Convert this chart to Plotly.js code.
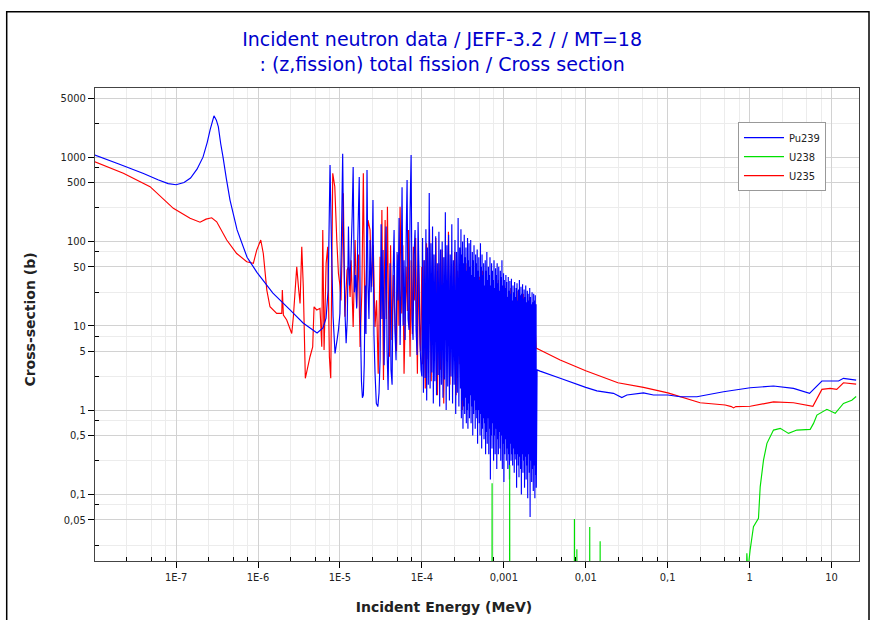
<!DOCTYPE html>
<html><head><meta charset="utf-8">
<script src="https://cdn.plot.ly/plotly-3.0.1.min.js"></script>
<style>html,body{margin:0;padding:0;background:#fff}</style>
</head><body>
<div id="chart" style="width:872px;height:620px"></div>
<script>
// ---------- tick labels ----------
const xTickVals = [1e-7, 1e-6, 1e-5, 1e-4, 1e-3, 1e-2, 1e-1, 1, 10];
const xTickText = ['1E-7', '1E-6', '1E-5', '1E-4', '0,001', '0,01', '0,1', '1', '10'];
const xMinorVals = [2.5e-8, 5e-8, 7.5e-8, 2.5e-7, 5e-7, 7.5e-7, 2.5e-6, 5e-6, 7.5e-6,
  2.5e-5, 5e-5, 7.5e-5, 2.5e-4, 5e-4, 7.5e-4, 2.5e-3, 5e-3, 7.5e-3,
  0.025, 0.05, 0.075, 0.25, 0.5, 0.75, 2.5, 5, 7.5];
const yTickVals = [0.05, 0.1, 0.5, 1, 5, 10, 50, 100, 500, 1000, 5000];
const yTickText = ['0,05', '0,1', '0,5', '1', '5', '10', '50', '100', '500', '1000', '5000'];
const yMinorVals = [0.025, 0.075, 0.25, 0.75, 2.5, 7.5, 25, 75, 250, 750, 2500];

// ---------- Pu239 (MeV, barn) ----------
const pu239ThermalE = [1.02e-8, 2e-8, 4e-8, 6e-8, 8e-8, 1.0e-7, 1.25e-7, 1.5e-7, 1.8e-7, 2.13e-7,
  2.4e-7, 2.6e-7, 2.9e-7, 3.1e-7, 3.28e-7, 3.5e-7, 3.74e-7, 4.1e-7, 4.55e-7, 5.55e-7,
  7.35e-7, 9.7e-7, 1.52e-6, 2.46e-6, 3.55e-6, 5.26e-6, 6.2e-6];
const pu239ThermalXs = [1060, 830, 640, 540, 485, 470, 500, 565, 720, 1000,
  1500, 2100, 3090, 2750, 2290, 1450, 1000, 560, 310, 137,
  65, 43, 24.4, 15.4, 10.8, 8.2, 9.4];

const pu239ResE = [6.77e-6, 7.17e-6, 7.57e-6, 7.9e-6, 8.24e-6, 8.71e-6, 9.23e-6, 9.6e-6, 1.0e-5, 1.04e-5,
  1.08e-5, 1.11e-5, 1.15e-5, 1.19e-5, 1.23e-5, 1.27e-5, 1.31e-5, 1.36e-5, 1.41e-5, 1.45e-5,
  1.5e-5, 1.55e-5, 1.6e-5, 1.65e-5, 1.72e-5, 1.77e-5, 1.83e-5, 1.88e-5, 1.93e-5, 1.98e-5,
  2.03e-5, 2.08e-5, 2.14e-5, 2.2e-5, 2.26e-5, 2.33e-5, 2.4e-5, 2.47e-5, 2.53e-5, 2.6e-5,
  2.68e-5, 2.78e-5, 2.9e-5, 3.0e-5, 3.09e-5, 3.18e-5, 3.27e-5, 3.36e-5, 3.46e-5, 3.56e-5,
  3.66e-5, 3.76e-5, 3.87e-5, 3.98e-5, 4.09e-5, 4.2e-5, 4.33e-5, 4.45e-5, 4.58e-5, 4.71e-5,
  4.84e-5, 4.98e-5, 5.12e-5, 5.27e-5, 5.42e-5, 5.57e-5, 5.73e-5, 5.9e-5, 6.06e-5, 6.24e-5,
  6.42e-5, 6.6e-5, 6.79e-5, 6.98e-5, 7.18e-5, 7.39e-5, 7.6e-5, 7.81e-5, 8.03e-5, 8.26e-5,
  8.5e-5, 8.74e-5, 8.99e-5, 9.24e-5, 9.5e-5, 9.77e-5];
const pu239ResXs = [12.3, 26.5, 806, 79, 13, 4.7, 6.8, 9, 14, 90,
  1100, 90, 15, 6.2, 12, 150, 30, 60, 200, 763,
  25, 40, 16, 104, 580, 14, 2.2, 1.4, 1.5, 3.5,
  30, 8, 703, 30, 12, 104, 25, 60, 310, 8,
  2.75, 1.2, 1.1, 1.6, 4, 160, 12, 79, 3.4, 20,
  150, 5, 1.73, 12, 55, 3, 2.0, 40, 137, 8,
  3.9, 75, 20, 190, 5.9, 30, 440, 10, 60, 6.8,
  100, 535, 12, 8.9, 230, 1059, 12, 6.8, 70, 137,
  9, 4.5, 170, 40, 6, 3.0];

const pu239DenseE = [
  100e-6, 102e-6, 104.5e-6, 107e-6, 109.5e-6, 112e-6, 114.5e-6, 117e-6, 120e-6, 123e-6,
  126e-6, 129e-6, 132e-6, 135e-6, 138e-6, 141e-6, 144e-6, 147.5e-6, 151e-6, 154.5e-6,
  158e-6, 161.5e-6, 165e-6, 169e-6, 173e-6, 177e-6, 181e-6, 185e-6, 189e-6, 193.5e-6,
  198e-6, 202.5e-6, 207e-6, 212e-6, 217e-6, 222e-6, 227e-6, 232e-6, 237e-6, 242.5e-6,
  248e-6, 253.5e-6, 259e-6, 265e-6, 271e-6, 277e-6, 283e-6, 289.5e-6, 296e-6,
  300e-6, 303.5e-6, 307e-6, 310.5e-6, 314e-6, 317.5e-6, 321e-6, 325e-6, 329e-6, 333e-6,
  337e-6, 341e-6, 345e-6, 349e-6, 353e-6, 357e-6, 361e-6, 365e-6, 369e-6, 373e-6,
  377e-6, 381e-6, 385.5e-6, 390e-6, 394.5e-6, 399e-6, 403.5e-6, 408e-6, 413e-6, 418e-6,
  423e-6, 428e-6, 433e-6, 438e-6, 443e-6, 448e-6, 453e-6, 458e-6, 463e-6, 468e-6,
  473.5e-6, 479e-6, 484.5e-6, 490e-6, 495.5e-6, 501e-6, 507e-6, 513e-6, 519e-6, 525e-6,
  531e-6, 537e-6, 543e-6, 549e-6, 555e-6, 561e-6, 567.5e-6, 574e-6, 580.5e-6, 587e-6,
  593.5e-6, 600e-6, 607e-6, 614e-6, 621e-6, 628e-6, 635e-6, 642e-6, 649e-6, 656e-6,
  663.5e-6, 671e-6, 678.5e-6, 686e-6, 694e-6, 702e-6, 710e-6, 718e-6, 726e-6, 734e-6,
  742.5e-6, 751e-6, 759.5e-6, 768e-6, 776.5e-6, 785e-6, 794e-6, 803e-6, 812e-6, 821e-6,
  830e-6, 839.5e-6, 849e-6, 858.5e-6, 868e-6, 878e-6, 888e-6, 898e-6, 908e-6, 918e-6,
  928.5e-6, 939e-6, 949.5e-6, 960e-6, 971e-6, 982e-6, 993e-6, 1004e-6, 1015e-6, 1026e-6,
  1037.5e-6, 1049e-6, 1061e-6, 1073e-6, 1085e-6, 1097e-6, 1109e-6, 1121e-6, 1134e-6, 1147e-6,
  1160e-6, 1173e-6, 1186e-6, 1199e-6, 1212e-6, 1226e-6, 1240e-6, 1254e-6, 1268e-6, 1282e-6,
  1296e-6, 1311e-6, 1326e-6, 1341e-6, 1356e-6, 1371e-6, 1386e-6, 1402e-6, 1418e-6, 1434e-6,
  1450e-6, 1466e-6, 1482e-6, 1499e-6, 1516e-6, 1533e-6, 1550e-6, 1567e-6, 1585e-6, 1603e-6,
  1621e-6, 1639e-6, 1657e-6, 1676e-6, 1695e-6, 1714e-6, 1733e-6, 1752e-6, 1772e-6, 1792e-6,
  1812e-6, 1832e-6, 1853e-6, 1874e-6, 1895e-6, 1916e-6, 1938e-6, 1960e-6, 1982e-6, 2004e-6,
  2026e-6, 2049e-6, 2072e-6, 2095e-6, 2118e-6, 2142e-6, 2166e-6, 2190e-6, 2215e-6, 2240e-6,
  2265e-6, 2291e-6, 2317e-6, 2343e-6, 2369e-6, 2396e-6, 2423e-6, 2450e-6, 2477e-6, 2494e-6];
const pu239DenseXs = [
  2.5, 110, 1.6, 60, 2.4, 140, 1.3, 85, 2.0, 375,
  1.8, 95, 2.8, 150, 1.2, 70, 2.2, 115, 1.5, 55,
  2.6, 130, 1.1, 80, 2.0, 100, 1.4, 65, 2.3, 222,
  1.0, 90, 1.9, 120, 1.3, 70, 2.5, 160, 1.2, 60,
  2.0, 104, 0.9, 75, 1.6, 190, 1.1, 85, 1.8,
  140, 0.8, 70, 1.3, 100, 0.6, 55, 1.1, 120, 0.9,
  65, 1.4, 85, 0.7, 45, 1.0, 110, 0.6, 60, 1.2,
  95, 0.8, 50, 1.5, 104, 0.7, 40, 1.1, 75, 0.5,
  60, 0.9, 90, 1.3, 38, 0.6, 70, 1.0, 55, 0.8,
  80, 0.4, 45, 1.0, 65, 0.7, 35, 0.5, 95, 0.9,
  50, 0.35, 70, 0.6, 40, 0.8, 55, 0.45, 30, 0.7,
  60, 0.3, 45, 0.55, 75, 0.4, 35, 0.8, 50, 0.3,
  40, 0.6, 65, 0.15, 30, 0.5, 55, 0.35, 45, 0.7,
  35, 0.25, 60, 0.5, 28, 0.3, 48, 0.6, 40, 0.2,
  55, 0.45, 32, 0.3, 50, 0.55, 26, 0.35, 45, 0.25,
  38, 0.5, 60, 0.2, 30, 0.4, 42, 0.14, 35, 0.3,
  28, 0.45, 40, 0.25, 33, 0.35, 22, 0.2, 38, 0.3,
  26, 0.15, 34, 0.4, 24, 0.25, 36, 0.3, 20, 0.22,
  30, 0.35, 25, 0.18, 33, 0.3, 22, 0.26, 28, 0.12,
  32, 0.3, 20, 0.22, 27, 0.16, 35, 0.28, 23, 0.2,
  29, 0.1, 24, 0.3, 31, 0.18, 21, 0.25, 27, 0.12,
  22, 0.28, 30, 0.15, 19, 0.22, 26, 0.09, 24, 0.3,
  20, 0.18, 28, 0.054, 22, 0.25, 18, 0.14, 25, 0.2,
  19, 0.11, 24, 0.22, 20, 0.09, 23, 0.17, 18, 0.12];

const pu239FastE = [2.55e-3, 2.77e-3, 4.88e-3, 0.01, 0.0137, 0.0218, 0.0276, 0.0318, 0.0507, 0.0671,
  0.1007, 0.142, 0.228, 0.481, 1.02, 1.96, 3.44, 5.4, 7.64, 12.2, 14.0, 20];
const pu239FastXs = [3.0, 2.9, 2.38, 1.86, 1.69, 1.58, 1.41, 1.51, 1.60, 1.51,
  1.51, 1.44, 1.44, 1.65, 1.84, 1.93, 1.81, 1.58, 2.21, 2.21, 2.38, 2.27];

// ---------- U235 (MeV, barn) ----------
const u235ThermalE = [1.02e-8, 2.27e-8, 4.81e-8, 9.25e-8, 1.48e-7, 1.96e-7, 2.32e-7, 2.72e-7, 3.13e-7, 4.15e-7,
  5.49e-7, 7.28e-7, 8.77e-7, 9.64e-7, 1.08e-6, 1.16e-6, 1.28e-6, 1.4e-6, 1.69e-6, 1.95e-6,
  1.98e-6, 2.04e-6, 2.24e-6, 2.58e-6, 2.7e-6, 2.97e-6, 3.14e-6, 3.26e-6, 3.42e-6, 3.57e-6,
  3.78e-6, 4.31e-6, 4.65e-6, 4.83e-6, 5.21e-6, 5.71e-6, 6.0e-6, 6.17e-6, 6.4e-6, 6.78e-6,
  7.09e-6, 7.43e-6, 7.72e-6, 8.17e-6, 8.65e-6, 9.15e-6, 9.58e-6];
const u235ThermalXs = [881, 643, 446, 247, 188, 169, 184, 191, 171, 104,
  72, 57.4, 55, 79, 104, 72, 26.5, 16.8, 14.0, 14.0,
  26.5, 13.4, 11.7, 8.1, 12.8, 50, 26.5, 18.4, 86.5, 29,
  2.38, 4.29, 5.63, 16.8, 15.4, 16.1, 5.63, 137, 5.15, 55,
  86.5, 4.29, 2.38, 643, 446, 104, 41.9];

const u235ResE = [1.0e-5, 1.03e-5, 1.1e-5, 1.15e-5, 1.22e-5, 1.27e-5, 1.33e-5, 1.37e-5, 1.45e-5, 1.53e-5,
  1.6e-5, 1.68e-5, 1.76e-5, 1.85e-5, 1.93e-5, 2.02e-5, 2.1e-5, 2.2e-5, 2.33e-5, 2.44e-5,
  2.55e-5, 2.68e-5, 2.8e-5, 2.93e-5, 3.09e-5, 3.17e-5, 3.25e-5, 3.4e-5, 3.48e-5, 3.56e-5,
  3.68e-5, 3.8e-5, 3.9e-5, 4.02e-5, 4.15e-5, 4.3e-5, 4.5e-5, 4.71e-5, 4.9e-5, 5.1e-5,
  5.25e-5, 5.42e-5, 5.68e-5, 5.85e-5, 6.06e-5, 6.25e-5, 6.42e-5, 6.65e-5, 6.85e-5, 7.0e-5,
  7.18e-5, 7.4e-5, 7.65e-5, 7.88e-5, 8.1e-5, 8.4e-5, 8.6e-5, 8.82e-5, 9.1e-5, 9.35e-5,
  9.6e-5, 9.99e-5];
const u235ResXs = [30, 20, 372, 12.8, 45.8, 50, 22, 60, 9.7, 104,
  16.8, 70, 5.6, 25, 643, 8.2, 40, 179, 137, 29,
  90, 9.7, 20, 2.7, 66, 12, 236, 2.27, 30, 179,
  12, 258, 20, 4.3, 90, 6.8, 40, 9.7, 5, 70,
  10, 258, 14, 90, 2.7, 12, 50, 15, 137, 20,
  4.3, 60, 8, 86.5, 20, 110, 15, 2.7, 60, 10.7,
  5, 50];

const u235DenseE = [102e-6, 106e-6, 110e-6, 114e-6, 119e-6, 124e-6, 130e-6, 136e-6, 142e-6, 148e-6,
  155e-6, 162e-6, 169e-6, 177e-6, 185e-6, 193e-6, 202e-6, 211e-6, 220e-6, 230e-6,
  240e-6, 251e-6, 262e-6, 274e-6, 286e-6, 299e-6, 312e-6, 326e-6, 341e-6, 356e-6,
  372e-6, 389e-6, 406e-6, 424e-6, 443e-6, 463e-6, 484e-6, 506e-6, 528e-6, 552e-6,
  577e-6, 603e-6, 630e-6, 658e-6, 688e-6, 719e-6, 751e-6, 785e-6, 820e-6, 857e-6,
  895e-6, 935e-6, 977e-6, 1021e-6, 1067e-6, 1115e-6, 1165e-6, 1217e-6, 1272e-6, 1329e-6,
  1389e-6, 1451e-6, 1516e-6, 1584e-6, 1655e-6, 1730e-6, 1808e-6, 1889e-6, 1974e-6, 2063e-6,
  2156e-6, 2350e-6];
const u235DenseXs = [3.5, 60, 1.8, 95, 4.0, 140, 2.2, 70, 5.0, 110,
  1.5, 55, 3.0, 80, 1.2, 65, 4.0, 130, 2.0, 50,
  6.0, 75, 1.5, 45, 3.5, 60, 1.0, 40, 4.0, 55,
  1.8, 42, 5.0, 35, 2.0, 50, 6.0, 38, 1.2, 45,
  3.5, 30, 8.0, 40, 2.5, 32, 5.0, 28, 1.5, 35,
  7.0, 25, 3.0, 30, 6.0, 22, 2.0, 28, 5.0, 20,
  8.0, 26, 3.5, 18, 6.0, 24, 4.0, 17, 9.0, 22,
  5.0, 16];

const u235FastE = [2.48e-3, 2.77e-3, 4.88e-3, 0.01, 0.0247, 0.0507, 0.1007, 0.249, 0.504, 0.6,
  0.637, 0.68, 1.02, 1.96, 3.44, 5.93, 7.64, 9.64, 11.6, 14.0, 20];
const u235FastXs = [5.44, 5.15, 3.92, 2.93, 2.11, 1.86, 1.60, 1.22, 1.15, 1.10,
  1.06, 1.10, 1.11, 1.25, 1.22, 1.11, 1.76, 1.81, 1.76, 2.11, 2.03];

// ---------- U238 (MeV, barn) ----------
const u238E = [6.0e-4, 7.15e-4, 7.2e-4, 7.25e-4, 1.17e-3, 1.18e-3, 1.19e-3, 7.2e-3, 7.28e-3, 7.35e-3,
  7.75e-3, 7.8e-3, 7.85e-3, 0.0111, 0.0112, 0.0113, 0.0149, 0.015, 0.0151, 0.5,
  0.9, 0.927, 0.95, 1.016, 1.116, 1.285, 1.349, 1.48, 1.63, 1.96,
  2.37, 2.99, 3.78, 5.5, 6.04, 6.64, 8.79, 11.1, 14.0, 17.7, 20];
const u238Xs = [2e-5, 2e-5, 0.136, 2e-5, 2e-5, 0.223, 2e-5, 2e-5, 0.051, 2e-5,
  2e-5, 0.0224, 2e-5, 2e-5, 0.041, 2e-5, 2e-5, 0.0279, 2e-5, 5e-4,
  0.005, 0.020, 0.012, 0.0218, 0.0413, 0.0519, 0.123, 0.255, 0.403, 0.579,
  0.607, 0.529, 0.579, 0.59, 0.695, 0.873, 1.02, 0.914, 1.2, 1.31, 1.45];

const pu239E = pu239ThermalE.concat(pu239ResE, pu239DenseE, pu239FastE);
const pu239Xs = pu239ThermalXs.concat(pu239ResXs, pu239DenseXs, pu239FastXs);
const u235E = u235ThermalE.concat(u235ResE, u235DenseE, u235FastE);
const u235Xs = u235ThermalXs.concat(u235ResXs, u235DenseXs, u235FastXs);

const traces = [
  {x: u235E, y: u235Xs, type: 'scatter', mode: 'lines', name: 'U235', legendrank: 3,
   line: {color: '#ff0000', width: 1.15, simplify: false}},
  {x: pu239E, y: pu239Xs, type: 'scatter', mode: 'lines', name: 'Pu239', legendrank: 1,
   line: {color: '#0000ff', width: 1.15, simplify: false}},
  {x: u238E, y: u238Xs, type: 'scatter', mode: 'lines', name: 'U238', legendrank: 2,
   line: {color: '#00e000', width: 1.15, simplify: false}}
];

const FONT = 'DejaVu Sans Condensed, DejaVu Sans, sans-serif';
const TITLE_FONT = 'DejaVu Sans, sans-serif';
const xRange = [-7.99, 1.336];
const yRange = [-1.79, 3.82];

const layout = {
  width: 872, height: 620,
  margin: {l: 95, r: 13, t: 88, b: 59, pad: 0},
  paper_bgcolor: '#ffffff', plot_bgcolor: '#ffffff',
  font: {family: FONT, size: 11, color: '#222'},
  showlegend: true,
  title: {
    text: 'Incident neutron data / JEFF-3.2 / / MT=18<br>: (z,fission) total fission / Cross section',
    font: {family: TITLE_FONT, size: 19, color: '#0000cc'},
    x: 0.507, xanchor: 'center', xref: 'container',
    y: 1 - 46 / 620, yanchor: 'top', yref: 'container'
  },
  xaxis: {
    type: 'log', range: xRange, autorange: false,
    tickmode: 'array', tickvals: xTickVals, ticktext: xTickText,
    ticks: 'outside', ticklen: 6, tickcolor: '#000', tickwidth: 1,
    showline: true, mirror: true, linecolor: '#444', linewidth: 1,
    showgrid: true, gridcolor: '#d2d2d2', gridwidth: 1, zeroline: false,
    minor: {tickmode: 'array', tickvals: xMinorVals, ticks: 'inside', ticklen: 4, tickcolor: '#000',
            showgrid: true, gridcolor: '#ececec', gridwidth: 1},
    tickfont: {family: FONT, size: 11, color: '#222'},
    title: {text: 'Incident Energy (MeV)', font: {family: TITLE_FONT, size: 14, color: '#222', weight: 'bold'}, standoff: 18},
    automargin: false
  },
  yaxis: {
    type: 'log', range: yRange, autorange: false,
    tickmode: 'array', tickvals: yTickVals, ticktext: yTickText,
    ticks: 'outside', ticklen: 6, tickcolor: '#000', tickwidth: 1,
    showline: true, mirror: true, linecolor: '#444', linewidth: 1,
    showgrid: true, gridcolor: '#d2d2d2', gridwidth: 1, zeroline: false,
    minor: {tickmode: 'array', tickvals: yMinorVals, ticks: 'inside', ticklen: 4, tickcolor: '#000',
            showgrid: true, gridcolor: '#ececec', gridwidth: 1},
    tickfont: {family: FONT, size: 11, color: '#222'},
    title: {text: 'Cross-section (b)', font: {family: TITLE_FONT, size: 14, color: '#222', weight: 'bold'}, standoff: 21},
    automargin: false
  },
  xaxis2: {
    type: 'log', range: xRange, autorange: false, overlaying: 'x', anchor: 'y', side: 'bottom',
    tickmode: 'array', tickvals: xTickVals, ticks: 'inside', ticklen: 6, tickcolor: '#000',
    showticklabels: false, showgrid: false, zeroline: false, showline: false
  },
  yaxis2: {
    type: 'log', range: yRange, autorange: false, overlaying: 'y', anchor: 'x', side: 'left',
    tickmode: 'array', tickvals: yTickVals, ticks: 'inside', ticklen: 6, tickcolor: '#000',
    showticklabels: false, showgrid: false, zeroline: false, showline: false
  },
  legend: {
    x: 0.8416, y: 0.928, xanchor: 'left', yanchor: 'top',
    bgcolor: '#ffffff', bordercolor: '#999999', borderwidth: 1, itemwidth: 40,
    font: {family: FONT, size: 11, color: '#222'}, tracegroupgap: 0
  },
  shapes: [{
    type: 'rect', xref: 'paper', yref: 'paper',
    x0: (6.7 - 95) / 764, x1: (869 - 95) / 764, y0: -0.2, y1: 1 + (88 - 11.7) / 473,
    line: {color: '#000', width: 1.5}, fillcolor: 'rgba(0,0,0,0)', layer: 'above'
  }]
};

Plotly.newPlot('chart', traces, layout, {staticPlot: true, displayModeBar: false}).then(function (gd) {
  // the reference centres the axis titles slightly off the plot-area centre
  const shift = function (sel, dx, dy) {
    const el = gd.querySelector(sel);
    if (!el) return;
    const t = el.getAttribute('transform') || '';
    el.setAttribute('transform', 'translate(' + dx + ',' + dy + ') ' + t);
  };
  shift('.g-xtitle', -33, 0);
  shift('.g-ytitle', 0, -5);
});
</script></body></html>
